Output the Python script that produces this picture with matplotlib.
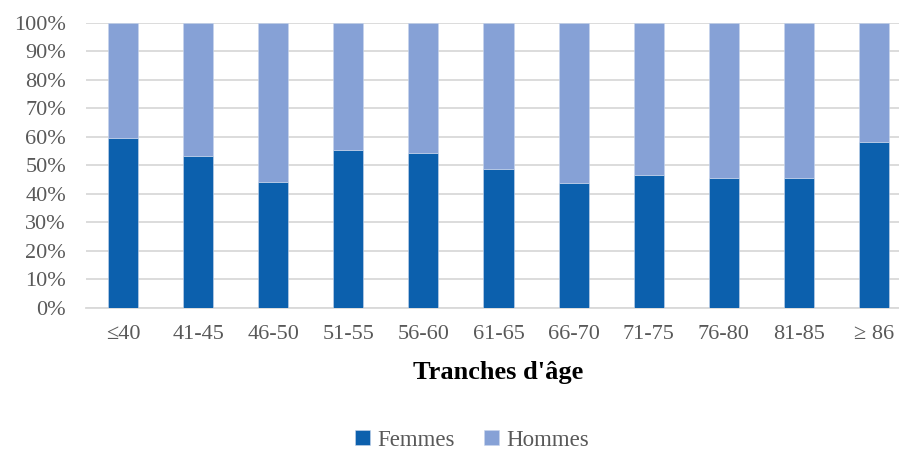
import matplotlib.pyplot as plt
import numpy as np

plt.rcParams['font.family'] = ['Liberation Serif', 'DejaVu Serif']

categories = ['≤40', '41-45', '46-50', '51-55', '56-60', '61-65', '66-70', '71-75', '76-80', '81-85', '≥ 86']
femmes = [59.6, 53.4, 44.3, 55.3, 54.5, 48.7, 43.9, 46.5, 45.6, 45.6, 58.3]
hommes = [100 - f for f in femmes]

c_f = '#0C60AD'
c_h = '#86A1D6'
grey = '#595959'

fig = plt.figure(figsize=(8.99, 4.5), dpi=100)
# plot area runs a little past the right edge like the original crop
ax = fig.add_axes([85.5 / 899, 1 - 308 / 450, 826 / 899, (308 - 22.7) / 450])

x = np.arange(len(categories))
ax.bar(x, femmes, width=0.4, color=c_f, edgecolor='#C9D6EC', linewidth=0.4, label='Femmes', zorder=3)
ax.bar(x, hommes, width=0.4, bottom=femmes, color=c_h, edgecolor='#C9D6EC', linewidth=0.4, label='Hommes', zorder=3)

ax.set_xlim(-0.5, len(categories) - 0.5)
ax.set_ylim(0, 100)
ax.set_yticks(range(0, 101, 10))
ax.set_yticklabels([f'{v}%' for v in range(0, 101, 10)])
ax.set_xticks(x)
ax.set_xticklabels(categories)
ax.tick_params(axis='both', length=0, labelsize=16, labelcolor=grey)
ax.tick_params(axis='y', pad=14)
ax.tick_params(axis='x', pad=12)

ax.grid(axis='y', color='#D9D9D9', linewidth=1.3, zorder=0)
for s in ['top', 'right', 'left']:
    ax.spines[s].set_visible(False)
ax.spines['bottom'].set_color('#D9D9D9')
ax.spines['bottom'].set_linewidth(1.3)

fig.text(498 / 899, 1 - 372 / 450, "Tranches d'âge", ha='center', va='center',
         fontsize=19, fontweight='bold', color='black')

fig.legend(loc='center', bbox_to_anchor=(472 / 899, 1 - 440 / 450), ncol=2, frameon=False,
           fontsize=16.5, labelcolor=grey, handlelength=0.65, handleheight=0.65,
           handletextpad=0.3, columnspacing=1.3)

fig.savefig('out.png', dpi=100)
